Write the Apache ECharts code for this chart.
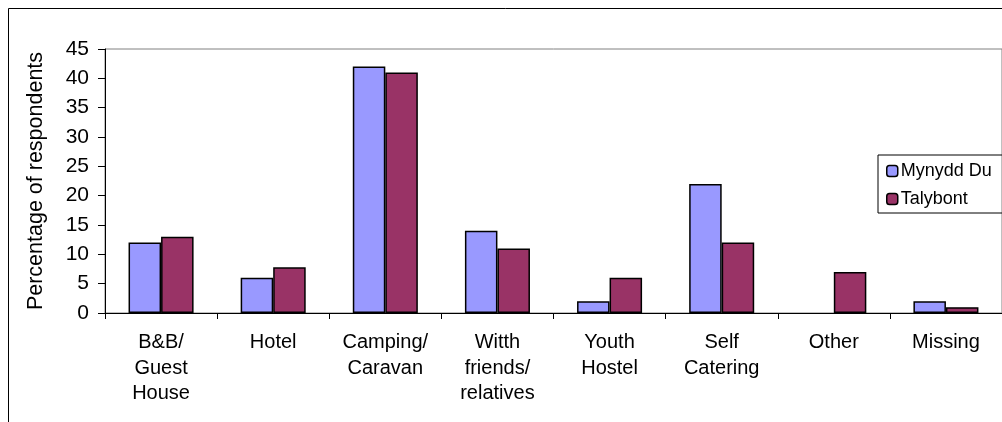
<!DOCTYPE html>
<html><head><meta charset="utf-8">
<script src="https://cdn.jsdelivr.net/npm/echarts@6/dist/echarts.min.js"></script>
<style>html,body{margin:0;padding:0;background:#fff}#c{width:1002px;height:422px}</style>
</head><body><div id="c"></div>
<script>
const categories = ["B&B/\nGuest\nHouse", "Hotel", "Camping/\nCaravan", "Witth\nfriends/\nrelatives", "Youth\nHostel", "Self\nCatering", "Other", "Missing"];
const mynyddDu = [12, 6, 42, 14, 2, 22, 0, 2];
const talybont = [13, 7.8, 41, 11, 6, 12, 7, 1];
const yTicks = { min: 0, max: 45, interval: 5 };

// zero-height bars are not drawn in the reference
const noZero = arr => arr.map(v => (v === 0 ? '-' : v));

const chart = echarts.init(document.getElementById('c'));
const font = 'Liberation Sans, Arial, sans-serif';
chart.setOption({
  animation: false,
  graphic: [{
    type: 'rect', shape: { x: 8.5, y: 8.5, width: 1010, height: 430 },
    style: { fill: 'none', stroke: '#000', lineWidth: 1 }, silent: true, z: -1
  }],
  grid: { left: 105, top: 49, width: 908, bottom: 109, show: true, borderColor: '#808080', borderWidth: 1 },
  legend: {
    left: 878, top: 155, orient: 'vertical', itemWidth: 11, itemHeight: 11, itemGap: 10,
    padding: [7, 30, 5, 8], borderColor: '#000', borderWidth: 1,
    textStyle: { fontFamily: font, fontSize: 18, color: '#000', padding: [0, 0, 0, -2] },
    data: [
      { name: 'Mynydd Du', itemStyle: { borderColor: '#000', borderWidth: 1.5 } },
      { name: 'Talybont', itemStyle: { borderColor: '#000', borderWidth: 1.5 } }
    ]
  },
  xAxis: {
    type: 'category', data: categories,
    axisLine: { lineStyle: { color: '#000', width: 1 } },
    axisTick: { show: true, length: 6, lineStyle: { color: '#000' } },
    axisLabel: { fontFamily: font, fontSize: 20, color: '#000', lineHeight: 25.5, margin: 17, interval: 0 }
  },
  yAxis: {
    type: 'value', min: yTicks.min, max: yTicks.max, interval: yTicks.interval,
    name: 'Percentage of respondents', nameLocation: 'middle', nameGap: 58, nameRotate: 90,
    nameTextStyle: { fontFamily: font, fontSize: 21.5, color: '#000' },
    axisLine: { show: true, lineStyle: { color: '#000' } },
    axisTick: { show: true, length: 7, lineStyle: { color: '#000' } },
    axisLabel: { fontFamily: font, fontSize: 21, color: '#000', margin: 16 },
    splitLine: { show: false }
  },
  series: [
    { name: 'Mynydd Du', type: 'bar', data: noZero(mynyddDu), barGap: '0%', barCategoryGap: '42%',
      itemStyle: { color: '#9999FF', borderColor: '#000', borderWidth: 1.5 } },
    { name: 'Talybont', type: 'bar', data: noZero(talybont),
      itemStyle: { color: '#993366', borderColor: '#000', borderWidth: 1.5 } }
  ]
});
</script></body></html>
